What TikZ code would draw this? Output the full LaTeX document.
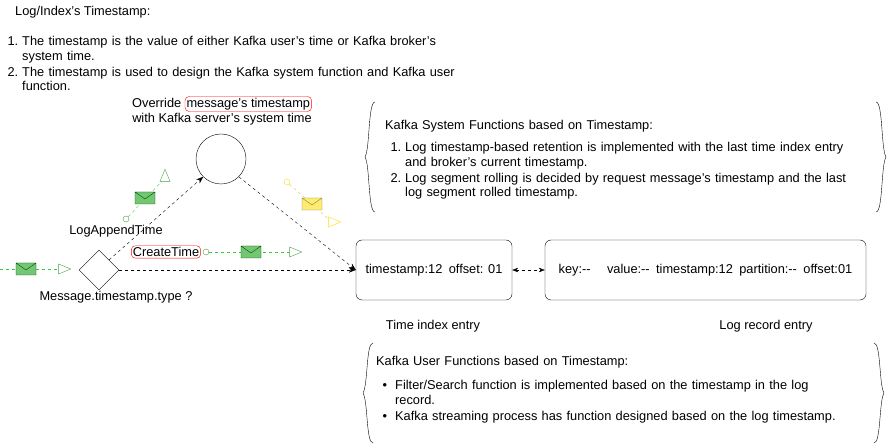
\documentclass[tikz,border=0pt]{standalone}
\usepackage{fontspec}
\setmainfont{Liberation Sans}
\usetikzlibrary{arrows.meta,shapes.geometric,positioning}
\tikzset{
  txt/.style={inner sep=0pt, anchor=west, font=\fontsize{12.8}{14.5}\selectfont},
  rec/.style={draw, rounded corners=6pt, minimum height=60pt, font=\fontsize{12.8}{14.5}\selectfont},
  redbox/.style={draw=red, rounded corners=4pt, inner sep=1.5pt},
  flow/.style={dashed, -{Stealth[length=7pt]}},
  msgline/.style={dashed, draw=#1!60!gray},
  env/.pic={\draw[fill=#1!55!white, draw=#1!50!black] (-10,-6) rectangle (10,6) (-10,-6) -- (0,1) -- (10,-6);},
  tip/.style={draw=#1, isosceles triangle, minimum width=10pt, minimum height=11pt, inner sep=0pt},
  dot/.style={draw=#1, circle, minimum size=6pt, inner sep=0pt},
}
\colorlet{gr}{green!45!black}
\colorlet{yl}{yellow!80!orange}
\newcommand{\leftbrc}[3]{\draw (#1+10,#2) .. controls (#1+3,#2) and (#1+5,#2/2+#3/2-8) .. (#1,#2/2+#3/2) .. controls (#1+5,#2/2+#3/2+8) and (#1+3,#3) .. (#1+10,#3);}
\newcommand{\rightbrc}[3]{\draw (#1-10,#2) .. controls (#1-3,#2) and (#1-5,#2/2+#3/2-8) .. (#1,#2/2+#3/2) .. controls (#1-5,#2/2+#3/2+8) and (#1-3,#3) .. (#1-10,#3);}
\begin{document}
\begin{tikzpicture}[x=1pt, y=-1pt]
	\useasboundingbox (0,0) rectangle (887,446);
	% Heading and list
	\node [txt] (title) at (15,12) {Log/Index's Timestamp:};
	\node [txt, anchor=north west, text width=462pt] (lst) at (1,31) {%
		\begin{list}{}{\leftmargin=21pt\labelsep=4pt\labelwidth=17pt\itemsep=1.5pt\parsep=0pt\topsep=0pt}
		\item[1.] The timestamp is the value of either Kafka user's time or Kafka broker's system time.
		\item[2.] The timestamp is used to design the Kafka system function and Kafka user function.
		\end{list}};
	% Decision and override
	\node [draw, diamond, minimum size=40pt, inner sep=0pt] (dec) at (99,270) {};
	\node [txt, anchor=center] (dtype) at (116,297) {Message.timestamp.type ?};
	\node [txt, anchor=center] (lat) at (116,231) {LogAppendTime};
	\node [txt, anchor=center, redbox] (ct) at (166,252) {CreateTime};
	\node [draw, circle, minimum size=50pt] (ovr) at (221,159) {};
	\node [txt, anchor=center] (ovr1) at (222,104) {Override \tikz[baseline=(m.base)]\node[redbox,inner sep=1.5pt] (m) {message's timestamp};};
	\node [txt, anchor=center] (ovr2) at (222,119) {with Kafka server's system time};
	% Entries
	\node [rec, minimum width=156pt] (tix) at (434,270) {timestamp:12\enspace offset: 01};
	\node [rec, minimum width=321pt] (lre) at (705.5,270) {key:{-}{-}\quad\ value:{-}{-}\enspace timestamp:12\enspace partition:{-}{-}\enspace offset:01};
	\node [txt, anchor=center] (tixl) at (433,326) {Time index entry};
	\node [txt, anchor=center] (lrel) at (766,326) {Log record entry};
	% Paths
	\draw [flow] (dec.east) -- (tix.west);
	\draw [flow] (dec.north east) -- (ovr.south west);
	\draw [flow] (ovr.south east) -- (tix.west);
	\draw [dashed, {Stealth[length=6pt]}-{Stealth[length=6pt]}] (tix.east) -- (lre.west);
	% Messages
	\coordinate (m0) at (0,269);
	\node [tip=gr!70, shape border rotate=0] (t0) at (62,269) {};
	\draw [msgline=green] (m0) -- (t0);
	\pic at (26,269) {env=green!60!black};
	\node [dot=gr!70] (c1) at (126,219) {};
	\node [tip=gr!70, shape border rotate=45] (t1) at (165,178) {};
	\draw [msgline=green] (c1) -- (t1);
	\pic at (145,198) {env=green!60!black};
	\node [dot=gr!70] (c2) at (206,252) {};
	\node [tip=gr!70, shape border rotate=0] (t2) at (293,252) {};
	\draw [msgline=green] (c2) -- (t2);
	\pic at (251,252) {env=green!60!black};
	\node [dot=yl] (c3) at (287,182) {};
	\node [tip=yl, shape border rotate=-45] (t3) at (332,222) {};
	\draw [msgline=yellow] (c3) -- (t3);
	\pic at (312,204) {env=yellow!80!orange};
	% System functions
	\leftbrc{365}{102}{212}
	\rightbrc{886}{102}{212}
	\node [txt, anchor=north west, text width=474pt] (sysf) at (385,120) {Kafka System Functions based on Timestamp:\par\vspace{6pt}
		\begin{list}{}{\leftmargin=20pt\labelsep=4pt\labelwidth=16pt\itemsep=1.5pt\parsep=0pt\topsep=0pt}
		\item[1.] Log timestamp-based retention is implemented with the last time index entry and broker's current timestamp.
		\item[2.] Log segment rolling is decided by request message's timestamp and the last log segment rolled timestamp.
		\end{list}};
	% User functions
	\leftbrc{363}{343}{443}
	\rightbrc{884}{343}{443}
	\node [txt, anchor=north west, text width=474pt] (usrf) at (376,356) {Kafka User Functions based on Timestamp:\par\vspace{8pt}
		\begin{list}{}{\leftmargin=19pt\labelsep=8pt\labelwidth=10pt\itemsep=1.5pt\parsep=0pt\topsep=0pt}
		\item[\textbullet] Filter/Search function is implemented based on the timestamp in the log record.
		\item[\textbullet] Kafka streaming process has function designed based on the log timestamp.
		\end{list}};
\end{tikzpicture}
\end{document}
